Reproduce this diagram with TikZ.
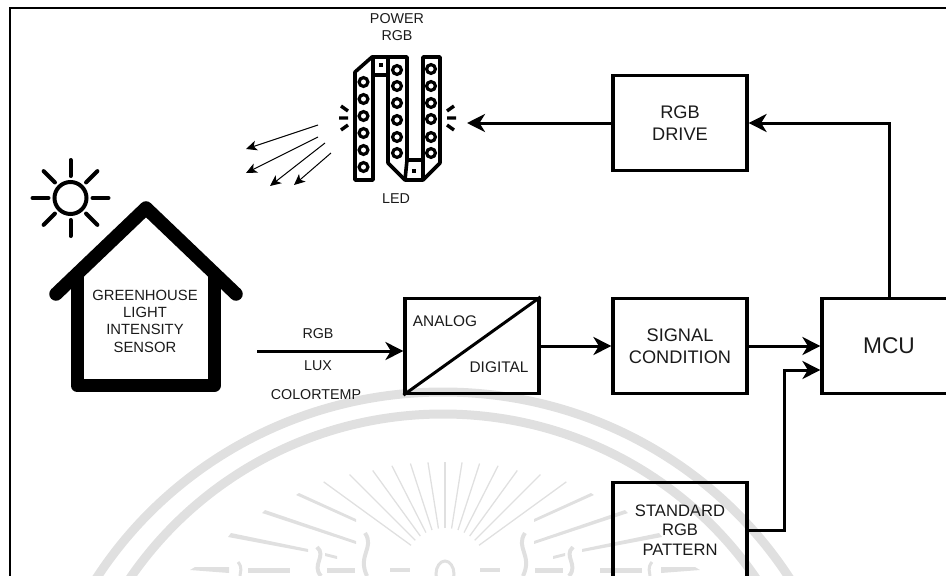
\documentclass[tikz,border=0pt]{standalone}
\usepackage{fontspec}
\setmainfont{Liberation Sans}
\usetikzlibrary{arrows.meta}
\definecolor{wm}{HTML}{E0E0E0}
\definecolor{ink}{HTML}{1A1A1A}
\tikzset{
  blockbox/.style={draw=black,line width=3.2pt,minimum width=134pt,minimum height=95pt,inner sep=0pt,align=center,font=\fontsize{18.2}{22.5}\selectfont,text=ink},
  lab/.style={font=\fontsize{14.3}{17}\selectfont,text=ink,align=center,inner sep=0pt},
  conn/.style={line width=3pt,-{Stealth[length=18pt,width=18pt,inset=5.5pt]}},
  thinarrow/.style={line width=1pt,-{Stealth[length=11pt,width=10pt,inset=3pt]}},
  ledline/.style={line width=3.6pt,line join=round},
  wmline/.style={draw=wm,line width=1.3pt},
  wmband/.style={draw=wm,line width=9pt}
}
\begin{document}
\begin{tikzpicture}[x=1pt,y=-1pt]
\useasboundingbox (0,0) rectangle (946,576);
\clip (0,0) rectangle (946,576);
% watermark
\draw[wmband] (443,792) ellipse [x radius=410,y radius=400];
\draw[wmband] (443,788) ellipse [x radius=378,y radius=374];
\foreach \a/\r in {0/108,9/109,18/112,27/117,36/123,45/135,54/150}{
  \draw[wmline] ({445+sin(\a)*42},{570-cos(\a)*42}) -- ({445+sin(\a)*\r},{570-cos(\a)*\r});
  \draw[wmline] ({445-sin(\a)*42},{570-cos(\a)*42}) -- ({445-sin(\a)*\r},{570-cos(\a)*\r});
}
\foreach \s in {1,-1}{
  \fill[wm] ({445+\s*(-149)},495) -- ({445+\s*(-146)},493) -- ({445+\s*(-89)},519) -- ({445+\s*(-89)},522) -- cycle;
  \fill[wm] ({445+\s*(-183)},513) -- ({445+\s*(-180)},510) -- ({445+\s*(-89)},541) -- ({445+\s*(-89)},544) -- cycle;
  \fill[wm] ({445+\s*(-217)},537) -- ({445+\s*(-214)},533) -- ({445+\s*(-137)},549) -- ({445+\s*(-137)},552) -- cycle;
  \fill[wm] ({445+\s*(-255)},570) -- ({445+\s*(-250)},567) -- ({445+\s*(-216)},567) -- ({445+\s*(-216)},573) -- cycle;
  \fill[wm] ({445+\s*(-197)},568) rectangle ({445+\s*(-155)},573);
  \fill[wm] ({445+\s*(-120)},553) -- ({445+\s*(-108)},556) -- ({445+\s*(-108)},559) -- ({445+\s*(-120)},556) -- cycle;
  \fill[wm] ({445+\s*(-118)},568) rectangle ({445+\s*(-90)},573);
  \fill[wm] ({445+\s*(-55)},568) rectangle ({445+\s*(-35)},572);
  \draw[wm,line width=4pt] ({445+\s*(-80)},533) .. controls ({445+\s*(-70)},548) and ({445+\s*(-88)},555) .. ({445+\s*(-78)},576);
  \draw[wm,line width=4pt] ({445+\s*(-128)},547) .. controls ({445+\s*(-118)},556) and ({445+\s*(-134)},565) .. ({445+\s*(-124)},576);
  \draw[wm,line width=3pt] ({445+\s*(-207)},562) .. controls ({445+\s*(-202)},568) and ({445+\s*(-205)},572) .. ({445+\s*(-205)},576);
}
\draw[wm,line width=3pt] (445,574) ellipse [x radius=9,y radius=13];
% frame
\coordinate (ftop) at (10,8);
\coordinate (fright) at (950,8);
\coordinate (fbottom) at (10,580);
\draw[black,line width=1.7pt] (fbottom) -- (ftop) -- (fright);
% blocks
\node[blockbox] (drive) at (680,123) {RGB\\DRIVE};
\node[blockbox] (adc) at (472,346) {};
\node[blockbox] (signal) at (680,346) {SIGNAL\\CONDITION};
\node[blockbox,font=\fontsize{22.7}{26}\selectfont] (mcu) at (889,346) {MCU};
\node[blockbox,font=\fontsize{16.6}{19.5}\selectfont] (std) at (680,530) {STANDARD\\RGB\\PATTERN};
\draw[line width=3pt] (adc.south west) -- (adc.north east);
\node[lab,font=\fontsize{15.4}{16}\selectfont] (analog) at (445,321) {ANALOG};
\node[lab,font=\fontsize{15.4}{16}\selectfont] (digital) at (499,367) {DIGITAL};
% connectors
\coordinate (sensorout) at (257,351);
\coordinate (turn) at (784,370);
\coordinate (mcuout) at (889,123);
\coordinate (ledin) at (467,123);
\coordinate (adcout) at (adc.east);
\draw[conn] (sensorout) -- (adc.west |- sensorout);
\draw[conn] (adcout) -- (signal.west);
\draw[conn] (signal.east) -- (mcu.west);
\draw[conn] (std.east) -| (turn) -- (mcu.west |- turn);
\draw[conn] (mcu.north) -- (mcuout) -- (drive.east);
\draw[conn] (drive.west) -- (ledin);
% labels on sensor link
\node[lab] (rgblab) at (318,334) {RGB};
\node[lab] (luxlab) at (318,366) {LUX};
\node[lab] (ctlab) at (316,395) {COLORTEMP};
% house
\draw[line width=13pt,line join=round] (77,274) -- (77,385.5) -- (214.5,385.5) -- (214.5,274);
\draw[line width=13.5pt,line cap=round,line join=round] (56,294) -- (146,208) -- (236,294);
\node[lab,font=\fontsize{14.8}{17.3}\selectfont] (house) at (145,321) {GREENHOUSE\\LIGHT\\INTENSITY\\SENSOR};
% sun
\node[draw=black,line width=4pt,circle,minimum size=32pt,inner sep=0pt] (sun) at (70.5,198) {};
\foreach \a in {0,45,...,315}{
  \draw[line width=4pt,line cap=round] (sun.center) ++(\a:22) -- ++(\a:16);
}
% LED strip
\draw[ledline] (355,180) -- (355,72) -- (372,57) -- (407,57) -- (407,160) -- (423,160) -- (423,57) -- (440,57) -- (440,163) -- (423,180) -- (405,180) -- (388,163) -- (388,75) -- (373,75) -- (373,180) -- cycle;
\draw[ledline] (373,57) -- (373,75) (388,57) -- (388,75) (407,160) -- (405,180) (423,160) -- (423,180);
\fill (378.5,62.5) rectangle (382.5,66.5);
\fill (412,169) rectangle (416,173);
\foreach \y in {82,99,116,133,150,167}{\draw[line width=3.2pt] (363.5,\y) circle (4.4);}
\foreach \y in {70,86,103,120,137,153}{\draw[line width=3.2pt] (397,\y) circle (4.4);}
\foreach \y in {69,86,103,119,137,153}{\draw[line width=3.2pt] (431,\y) circle (4.4);}
\draw[line width=3.4pt] (341,106) -- (348,111) (339,118) -- (348,118) (341,130) -- (348,125);
\draw[line width=3.4pt] (447,111) -- (454,106) (447,118) -- (456,118) (447,125) -- (454,130);
\coordinate (r1s) at (318,125); \coordinate (r1e) at (246,149);
\coordinate (r2s) at (318,137); \coordinate (r2e) at (246,173);
\coordinate (r3s) at (325,143); \coordinate (r3e) at (270,186);
\coordinate (r4s) at (331,153); \coordinate (r4e) at (294,185);
\draw[thinarrow] (r1s) -- (r1e);
\draw[thinarrow] (r2s) -- (r2e);
\draw[thinarrow] (r3s) -- (r3e);
\draw[thinarrow] (r4s) -- (r4e);
\node[lab,font=\fontsize{14.3}{17}\selectfont] (power) at (397,27.5) {POWER\\RGB};
\node[lab] (led) at (396,199) {LED};
\end{tikzpicture}
\end{document}
